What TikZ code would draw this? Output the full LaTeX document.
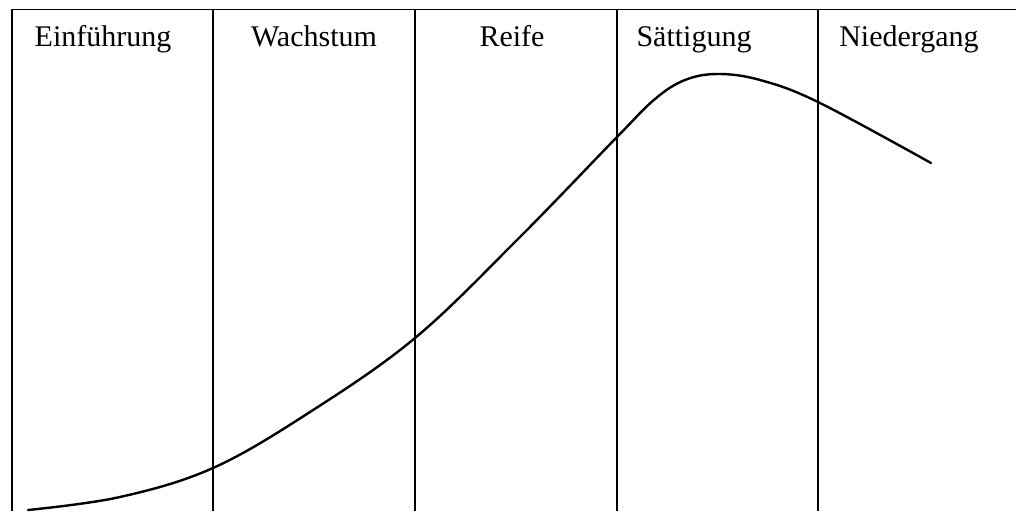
\documentclass[tikz,border=0pt]{standalone}
\usepackage{fontspec}
\setmainfont{Liberation Serif}
\begin{document}
\begin{tikzpicture}[x=1pt,y=-1pt,
  frame/.style={line width=1.4pt,black},
  sep/.style={line width=1.3pt,black},
  curve/.style={line width=2.4pt,black,line cap=round,line join=round},
  phase/.style={anchor=base,inner sep=0pt,font=\fontsize{30}{34}\selectfont}]
\useasboundingbox (0,0) rectangle (1016,511);
\draw[frame] (12,511) -- (12,9.5) -- (1016,9.5);
\foreach \x in {213,415,617,818} \draw[sep] (\x,9.5) -- (\x,511);
\node[phase] (p1) at (103,46) {Einführung};
\node[phase] (p2) at (314,46) {Wachstum};
\node[phase] (p3) at (512,46) {Reife};
\node[phase] (p4) at (694,46) {Sättigung};
\node[phase] (p5) at (909,46) {Niedergang};
\draw[curve] plot[smooth,tension=0.6] coordinates {(28,510) (120,497) (213,468) (310,412) (415,338) (517,240) (617,137) (655,99) (685,80) (718,74) (760,80) (818,102) (931,163)};
\end{tikzpicture}
\end{document}
